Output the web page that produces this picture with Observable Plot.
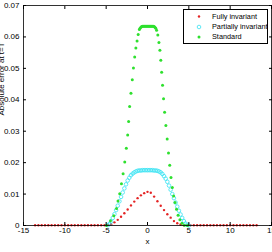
<!DOCTYPE html>
<html><head><meta charset="utf-8">
<script src="https://cdn.jsdelivr.net/npm/d3@7"></script>
<script src="https://cdn.jsdelivr.net/npm/@observablehq/plot@0.6"></script>
<style>
html,body{margin:0;padding:0;background:#fff;overflow:hidden}
#wrap{position:relative;width:272px;height:252px}
#legend{position:absolute;left:183px;top:9px;width:83px;height:33px;border:0.8px solid #000;background:#fff;font:7.3px "Liberation Sans",Arial,sans-serif;color:#000}
#legend div{position:absolute;left:28px;line-height:8px;white-space:nowrap}
#legend svg{position:absolute;left:0;top:0}
</style></head><body><div id="wrap"></div>
<script>
const xTicks = [-15, -10, -5, 0, 5, 10, 15];
const yTicks = [0, 0.01, 0.02, 0.03, 0.04, 0.05, 0.06, 0.07];
const seriesNames = ["Fully invariant", "Partially invariant", "Standard"];
const seriesColors = ["#e42424", "#36e2f2", "#2ee02e"];
const xLabel = "x";
const yLabel = "Absolute error at t=T";

const redX = [-13.6,-13.2,-12.8,-12.4,-12.0,-11.6,-11.2,-10.8,-10.4,-10.0,-9.6,-9.2,-8.8,-8.4,-8.0,-7.6,-7.2,-6.8,-6.4,-6.0,-5.6,-5.2,
  -4.8,-4.4,-4.0,-3.6,-3.2,-2.8,-2.4,-2.0,-1.6,-1.2,-0.8,-0.4,0.0,0.4,0.8,1.2,1.6,2.0,2.4,2.8,3.2,3.6,4.0,4.4,
  4.8,5.2,5.6,6.0,6.4,6.8,7.2,7.6,8.0,8.4,8.8,9.2,9.6,10.0,10.4,10.8,11.2,11.6,12.0,12.4,12.8,13.2];
const redY = [0.0001,0.0001,0.0001,0.0001,0.0001,0.0001,0.0001,0.0001,0.0001,0.0001,0.0001,0.0001,0.0001,0.0001,0.0001,0.0001,0.0001,0.0001,0.0001,0.0001,0.0001,0.0001,
  0.0002,0.0004,0.0010,0.0018,0.0028,0.0039,0.0051,0.0064,0.0076,0.0087,0.0096,0.0103,0.0107,0.0104,0.0092,0.0077,0.0063,0.0049,0.0036,0.0025,0.0014,0.0007,0.0003,0.0001,
  0.0001,0.0001,0.0001,0.0001,0.0001,0.0001,0.0001,0.0001,0.0001,0.0001,0.0001,0.0001,0.0001,0.0001,0.0001,0.0001,0.0001,0.0001,0.0001,0.0001,0.0001,0.0001];

const cyanX = [-4.8,-4.6,-4.4,-4.2,-4.0,-3.8,-3.6,-3.4,-3.2,-3.0,-2.8,-2.6,-2.4,-2.2,-2.0,-1.8,-1.6,-1.4,-1.2,-1.0,
  -0.8,-0.6,-0.4,-0.2,0.0,0.2,0.4,0.6,0.8,1.0,1.2,1.4,1.6,1.8,2.0,2.2,2.4,2.6,2.8,3.0,3.2,3.4,3.6,3.8,4.0,4.2,4.4,4.6,4.8,5.0];
const cyanY = [0.0001,0.0005,0.0013,0.0024,0.0036,0.0049,0.0063,0.0077,0.0091,0.0105,0.0118,0.0131,0.0143,0.0152,0.0160,0.0165,0.0169,0.0172,0.0174,0.0175,
  0.0175,0.0176,0.0176,0.0176,0.0176,0.0176,0.0176,0.0176,0.0175,0.0175,0.0174,0.0172,0.0169,0.0164,0.0157,0.0149,0.0139,0.0127,0.0114,0.0100,
  0.0087,0.0073,0.0060,0.0047,0.0035,0.0024,0.0014,0.0006,0.0002,0.0000];

const greenX = [-4.96,-4.48,-4.08,-3.75,-3.57,-3.36,-3.15,-2.95,-2.75,-2.56,-2.40,-2.28,-2.16,-2.00,-1.84,-1.70,-1.55,-1.41,-1.26,-1.13,-0.98,
  -0.9,-0.8,-0.7,-0.6,-0.5,-0.4,-0.3,-0.2,-0.1,0.0,0.1,0.2,0.3,0.4,0.5,0.6,0.7,0.8,0.9,1.0,1.1,
  1.25,1.38,1.50,1.61,1.71,1.82,1.94,2.07,2.22,2.38,2.54,2.69,2.84,3.00,3.16,3.33,3.51,3.70,3.92,4.17,4.47,4.85];
const greenY = [0.0000,0.0015,0.0031,0.0054,0.0078,0.0101,0.0133,0.0165,0.0202,0.0246,0.0288,0.0331,0.0379,0.0421,0.0464,0.0501,0.0536,0.0565,0.0587,0.0608,0.0624,
  0.0628,0.0631,0.0633,0.0634,0.0634,0.0634,0.0634,0.0634,0.0634,0.0634,0.0634,0.0634,0.0634,0.0634,0.0634,0.0634,0.0634,0.0633,0.0631,0.0628,0.0621,
  0.0606,0.0582,0.0558,0.0526,0.0488,0.0446,0.0403,0.0360,0.0318,0.0275,0.0231,0.0192,0.0153,0.0121,0.0094,0.0073,0.0052,0.0033,0.0018,0.0007,0.0001,0.0000];

const red = redX.map((x, i) => ({x, y: redY[i]}));
const cyan = cyanX.map((x, i) => ({x, y: cyanY[i]}));
const green = greenX.map((x, i) => ({x, y: greenY[i]}));

const chart = Plot.plot({
  width: 272, height: 252,
  marginLeft: 23, marginRight: 1, marginTop: 5, marginBottom: 27,
  x: {domain: [-15, 15]},
  y: {domain: [0, 0.07]},
  style: {fontFamily: "'Liberation Sans', Arial, sans-serif", fontSize: "8px", background: "#fff", color: "#000", overflow: "visible"},
  marks: [
    Plot.dot(red, {x: "x", y: "y", r: 1.2, fill: seriesColors[0], stroke: "none"}),
    Plot.dot(cyan, {x: "x", y: "y", r: 1.8, fill: "none", stroke: seriesColors[1], strokeWidth: 0.8}),
    Plot.dot(green, {x: "x", y: "y", r: 1.5, fill: seriesColors[2], stroke: "none"}),
    Plot.frame({stroke: "#000", strokeWidth: 0.8}),
    Plot.axisX({anchor: "bottom", ticks: xTicks, tickSize: -3, tickPadding: 5, tickFormat: d => String(d), label: null}),
    Plot.axisX({anchor: "top", ticks: xTicks, tickSize: -3, tickFormat: () => "", label: null}),
    Plot.axisY({anchor: "left", ticks: yTicks, tickSize: -3, tickPadding: 7, tickFormat: d => d === 0 ? "0" : d.toFixed(2), label: null}),
    Plot.axisY({anchor: "right", ticks: yTicks, tickSize: -3, tickFormat: () => "", label: null}),
    Plot.text([xLabel], {frameAnchor: "bottom", dy: 18, fontSize: 8}),
    Plot.text([yLabel], {frameAnchor: "left", dx: -22, rotate: -90, fontSize: 8})
  ]
});
const wrap = document.getElementById("wrap");
wrap.appendChild(chart);

const legend = document.createElement("div");
legend.id = "legend";
let svg = '<svg width="83" height="33">';
svg += `<circle cx="15" cy="6.5" r="1.2" fill="${seriesColors[0]}"/>`;
svg += `<circle cx="15" cy="17" r="1.8" fill="none" stroke="${seriesColors[1]}" stroke-width="0.8"/>`;
svg += `<circle cx="15" cy="27" r="1.5" fill="${seriesColors[2]}"/>`;
svg += '</svg>';
legend.innerHTML = svg + seriesNames.map((n, i) => `<div style="top:${[2.5, 13, 23][i]}px">${n}</div>`).join("");
wrap.appendChild(legend);
</script>
</body></html>
